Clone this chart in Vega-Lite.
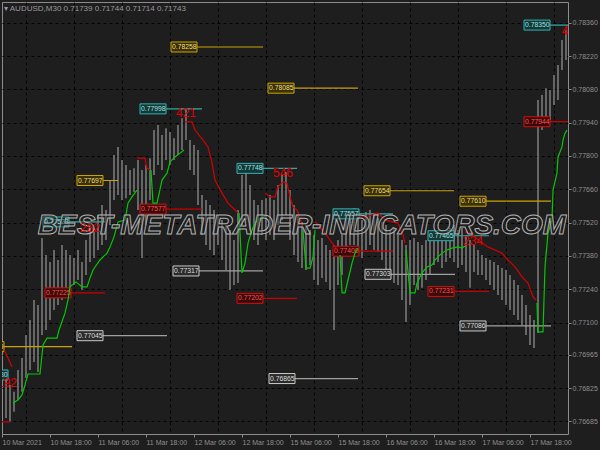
{
"$schema": "https://vega.github.io/schema/vega-lite/v6.json",
"width": 566, "height": 432,
"autosize": {"type": "none"},
"padding": {"left": 2, "top": 2, "right": 32, "bottom": 16},
"background": "#1e1e1e",
"title": {"text": "▾ AUDUSD,M30  0.71739 0.71744 0.71714 0.71743", "anchor": "start", "frame": "group", "offset": -11, "dx": 2, "fontSize": 8, "fontWeight": "normal", "font": "Liberation Sans, sans-serif", "color": "#9a9a9a"},
"config": {
  "view": {"stroke": "#8c8c8c", "strokeWidth": 1},
  "axis": {"labelFont": "Liberation Sans, sans-serif", "labelFontSize": 7, "labelColor": "#8e8e8e", "tickColor": "#8c8c8c", "domain": false, "gridColor": "#000000", "gridDash": [3, 3], "gridOpacity": 0.85, "title": null}
},
"datasets": {
"bars": [
{"b":0,"h":0.76796,"l":0.76691},{"b":2,"h":0.76859,"l":0.76699},{"b":4,"h":0.76838,"l":0.76683},{"b":6,"h":0.76809,"l":0.76725},{"b":8,"h":0.76901,"l":0.76775},{"b":10,"h":0.76951,"l":0.76809},{"b":12,"h":0.77048,"l":0.76867},{"b":14,"h":0.77111,"l":0.76901},{"b":16,"h":0.77195,"l":0.76935},{"b":18,"h":0.77174,"l":0.76893},
{"b":20,"h":0.77455,"l":0.77048},{"b":22,"h":0.77384,"l":0.77069},{"b":24,"h":0.77355,"l":0.77111},{"b":26,"h":0.77405,"l":0.77153},{"b":28,"h":0.77363,"l":0.77174},{"b":30,"h":0.77426,"l":0.77195},{"b":32,"h":0.77405,"l":0.77216},{"b":34,"h":0.77384,"l":0.77204},{"b":36,"h":0.77371,"l":0.77258},{"b":38,"h":0.77405,"l":0.77279},
{"b":40,"h":0.77355,"l":0.77237},{"b":42,"h":0.77447,"l":0.773},{"b":44,"h":0.7751,"l":0.77355},{"b":46,"h":0.77497,"l":0.77371},{"b":48,"h":0.77552,"l":0.77405},{"b":50,"h":0.77594,"l":0.77426},{"b":52,"h":0.77573,"l":0.77447},{"b":54,"h":0.77699,"l":0.7751},{"b":56,"h":0.77804,"l":0.77615},{"b":58,"h":0.77838,"l":0.77636},
{"b":60,"h":0.77783,"l":0.77615},{"b":62,"h":0.77762,"l":0.77623},{"b":64,"h":0.77741,"l":0.77636},{"b":66,"h":0.77749,"l":0.77649},{"b":68,"h":0.77783,"l":0.77573},{"b":70,"h":0.77741,"l":0.77371},{"b":72,"h":0.77762,"l":0.7751},{"b":74,"h":0.77791,"l":0.77615},{"b":76,"h":0.77909,"l":0.7772},{"b":78,"h":0.7793,"l":0.77762},
{"b":80,"h":0.77888,"l":0.77741},{"b":82,"h":0.77917,"l":0.77783},{"b":84,"h":0.77901,"l":0.77762},{"b":86,"h":0.77875,"l":0.77783},{"b":88,"h":0.7793,"l":0.77804},{"b":90,"h":0.77959,"l":0.77825},{"b":92,"h":0.77993,"l":0.77867},{"b":94,"h":0.77867,"l":0.77741},{"b":96,"h":0.77846,"l":0.7772},{"b":98,"h":0.77825,"l":0.77594},
{"b":100,"h":0.77636,"l":0.77468},{"b":102,"h":0.77615,"l":0.77426},{"b":104,"h":0.77594,"l":0.77405},{"b":106,"h":0.77573,"l":0.77384},{"b":108,"h":0.77552,"l":0.77426},{"b":110,"h":0.77531,"l":0.77363},{"b":112,"h":0.7751,"l":0.77321},{"b":114,"h":0.77489,"l":0.77237},{"b":116,"h":0.77447,"l":0.77258},{"b":118,"h":0.77573,"l":0.77266},
{"b":120,"h":0.7772,"l":0.7751},{"b":122,"h":0.77762,"l":0.77531},{"b":124,"h":0.77678,"l":0.77489},{"b":126,"h":0.77615,"l":0.77447},{"b":128,"h":0.77594,"l":0.77426},{"b":130,"h":0.77615,"l":0.77468},{"b":132,"h":0.77623,"l":0.77447},{"b":134,"h":0.77636,"l":0.77468},{"b":136,"h":0.77615,"l":0.77447},{"b":138,"h":0.77678,"l":0.7751},
{"b":140,"h":0.7772,"l":0.77531},{"b":142,"h":0.77733,"l":0.77552},{"b":144,"h":0.77657,"l":0.77447},{"b":146,"h":0.77594,"l":0.77384},{"b":148,"h":0.77552,"l":0.77355},{"b":150,"h":0.77523,"l":0.77329},{"b":152,"h":0.7751,"l":0.77321},{"b":154,"h":0.77489,"l":0.77342},{"b":156,"h":0.77468,"l":0.77279},{"b":158,"h":0.77447,"l":0.77258},
{"b":160,"h":0.77455,"l":0.77287},{"b":162,"h":0.77426,"l":0.77271},{"b":164,"h":0.77405,"l":0.77237},{"b":166,"h":0.77426,"l":0.77069},{"b":168,"h":0.77447,"l":0.77258},{"b":170,"h":0.77468,"l":0.773},{"b":172,"h":0.77552,"l":0.77384},{"b":174,"h":0.77573,"l":0.77426},{"b":176,"h":0.77581,"l":0.77426},{"b":178,"h":0.77552,"l":0.77405},
{"b":180,"h":0.77531,"l":0.77371},{"b":182,"h":0.77565,"l":0.77405},{"b":184,"h":0.77573,"l":0.77426},{"b":186,"h":0.77552,"l":0.77405},{"b":188,"h":0.77539,"l":0.77397},{"b":190,"h":0.77523,"l":0.77363},{"b":192,"h":0.7751,"l":0.77321},{"b":194,"h":0.77489,"l":0.773},{"b":196,"h":0.77497,"l":0.77266},{"b":198,"h":0.77468,"l":0.77258},
{"b":200,"h":0.77447,"l":0.77195},{"b":202,"h":0.77426,"l":0.77103},{"b":204,"h":0.77447,"l":0.77174},{"b":206,"h":0.77455,"l":0.77258},{"b":208,"h":0.77439,"l":0.77237},{"b":210,"h":0.77426,"l":0.77246},{"b":212,"h":0.77447,"l":0.77279},{"b":214,"h":0.77468,"l":0.773},{"b":216,"h":0.77481,"l":0.77342},{"b":218,"h":0.77489,"l":0.77355},
{"b":220,"h":0.77468,"l":0.77329},{"b":222,"h":0.77481,"l":0.77355},{"b":224,"h":0.77497,"l":0.77371},{"b":226,"h":0.7751,"l":0.77355},{"b":228,"h":0.77489,"l":0.77329},{"b":230,"h":0.77497,"l":0.77342},{"b":232,"h":0.77468,"l":0.77313},{"b":234,"h":0.77447,"l":0.77246},{"b":236,"h":0.77426,"l":0.77313},{"b":238,"h":0.77405,"l":0.773},
{"b":240,"h":0.77384,"l":0.773},{"b":242,"h":0.77371,"l":0.77279},{"b":244,"h":0.77363,"l":0.77258},{"b":246,"h":0.77355,"l":0.77237},{"b":248,"h":0.77342,"l":0.77216},{"b":250,"h":0.77329,"l":0.77195},{"b":252,"h":0.77321,"l":0.77174},{"b":254,"h":0.773,"l":0.77153},{"b":256,"h":0.77279,"l":0.77132},{"b":258,"h":0.77258,"l":0.77111},
{"b":260,"h":0.77216,"l":0.7709},{"b":262,"h":0.77174,"l":0.77048},{"b":264,"h":0.77132,"l":0.77006},{"b":266,"h":0.77111,"l":0.76993},{"b":268,"h":0.78035,"l":0.77056},{"b":270,"h":0.78056,"l":0.77909},{"b":272,"h":0.78085,"l":0.7793},{"b":274,"h":0.78077,"l":0.77951},{"b":276,"h":0.7814,"l":0.78014},{"b":278,"h":0.78182,"l":0.78035},
{"b":280,"h":0.78287,"l":0.78161},{"b":282,"h":0.78329,"l":0.78203}
],
"trend": [
{"b":1,"p":0.76985,"s":1,"t":"dn"},{"b":3,"p":0.76951,"s":1,"t":"dn"},{"b":5,"p":0.76914,"s":1,"t":"dn"},
{"b":5.5,"p":0.76762,"s":2,"t":"up"},{"b":8,"p":0.76775,"s":2,"t":"up"},{"b":10,"p":0.76796,"s":2,"t":"up"},{"b":11.5,"p":0.76838,"s":2,"t":"up"},{"b":13,"p":0.76884,"s":2,"t":"up"},{"b":19,"p":0.76884,"s":2,"t":"up"},{"b":20.5,"p":0.77006,"s":2,"t":"up"},{"b":22.5,"p":0.77035,"s":2,"t":"up"},{"b":27.5,"p":0.77035,"s":2,"t":"up"},{"b":28.5,"p":0.77069,"s":2,"t":"up"},{"b":31.5,"p":0.7714,"s":2,"t":"up"},{"b":33,"p":0.77195,"s":2,"t":"up"},{"b":34,"p":0.7725,"s":2,"t":"up"},{"b":37,"p":0.77271,"s":2,"t":"up"},{"b":40,"p":0.7725,"s":2,"t":"up"},{"b":42.5,"p":0.7725,"s":2,"t":"up"},{"b":44,"p":0.77287,"s":2,"t":"up"},{"b":45.5,"p":0.77321,"s":2,"t":"up"},{"b":49,"p":0.77363,"s":2,"t":"up"},{"b":52.5,"p":0.77392,"s":2,"t":"up"},{"b":54,"p":0.77418,"s":2,"t":"up"},{"b":56,"p":0.7746,"s":2,"t":"up"},{"b":58,"p":0.77523,"s":2,"t":"up"},{"b":61.5,"p":0.77531,"s":2,"t":"up"},{"b":63,"p":0.77602,"s":2,"t":"up"},{"b":65,"p":0.77628,"s":2,"t":"up"},{"b":67.5,"p":0.77657,"s":2,"t":"up"},
{"b":67.5,"p":0.77791,"s":3,"t":"dn"},{"b":71.5,"p":0.77791,"s":3,"t":"dn"},{"b":72.5,"p":0.77749,"s":3,"t":"dn"},{"b":74,"p":0.77741,"s":3,"t":"dn"},
{"b":74.5,"p":0.77741,"s":4,"t":"up"},{"b":75.5,"p":0.77602,"s":4,"t":"up"},{"b":77.5,"p":0.77602,"s":4,"t":"up"},{"b":80,"p":0.77699,"s":4,"t":"up"},{"b":82.5,"p":0.77728,"s":4,"t":"up"},{"b":84,"p":0.77775,"s":4,"t":"up"},{"b":86.5,"p":0.77796,"s":4,"t":"up"},{"b":89,"p":0.77812,"s":4,"t":"up"},{"b":91,"p":0.77825,"s":4,"t":"up"},
{"b":91.5,"p":0.77943,"s":5,"t":"dn"},{"b":95,"p":0.77943,"s":5,"t":"dn"},{"b":96.5,"p":0.77909,"s":5,"t":"dn"},{"b":100.5,"p":0.77867,"s":5,"t":"dn"},{"b":103,"p":0.77838,"s":5,"t":"dn"},{"b":105,"p":0.77771,"s":5,"t":"dn"},{"b":106.5,"p":0.77699,"s":5,"t":"dn"},{"b":110,"p":0.77644,"s":5,"t":"dn"},{"b":113,"p":0.77602,"s":5,"t":"dn"},{"b":116.5,"p":0.77573,"s":5,"t":"dn"},{"b":118,"p":0.77561,"s":5,"t":"dn"},
{"b":118.5,"p":0.77561,"s":6,"t":"up"},{"b":120,"p":0.77309,"s":6,"t":"up"},{"b":121.5,"p":0.7735,"s":6,"t":"up"},{"b":123,"p":0.77434,"s":6,"t":"up"},{"b":125,"p":0.77489,"s":6,"t":"up"},{"b":126.5,"p":0.77518,"s":6,"t":"up"},{"b":128,"p":0.77531,"s":6,"t":"up"},{"b":131.5,"p":0.77548,"s":6,"t":"up"},
{"b":131.5,"p":0.77644,"s":7,"t":"dn"},{"b":134,"p":0.77628,"s":7,"t":"dn"},{"b":136.5,"p":0.77628,"s":7,"t":"dn"},{"b":138,"p":0.7767,"s":7,"t":"dn"},{"b":140.5,"p":0.77691,"s":7,"t":"dn"},{"b":142.5,"p":0.77686,"s":7,"t":"dn"},{"b":144,"p":0.77628,"s":7,"t":"dn"},{"b":145.5,"p":0.77586,"s":7,"t":"dn"},{"b":147.5,"p":0.77573,"s":7,"t":"dn"},{"b":149,"p":0.77544,"s":7,"t":"dn"},{"b":150,"p":0.77502,"s":7,"t":"dn"},
{"b":150.5,"p":0.77489,"s":8,"t":"up"},{"b":152,"p":0.77329,"s":8,"t":"up"},{"b":154,"p":0.77329,"s":8,"t":"up"},{"b":155.5,"p":0.77376,"s":8,"t":"up"},{"b":156.5,"p":0.77489,"s":8,"t":"up"},
{"b":156.5,"p":0.77523,"s":9,"t":"dn"},{"b":159,"p":0.77502,"s":9,"t":"dn"},{"b":161.5,"p":0.77476,"s":9,"t":"dn"},{"b":164,"p":0.77447,"s":9,"t":"dn"},{"b":166.5,"p":0.77418,"s":9,"t":"dn"},{"b":168,"p":0.77405,"s":9,"t":"dn"},
{"b":169,"p":0.77384,"s":10,"t":"up"},{"b":170,"p":0.77225,"s":10,"t":"up"},{"b":171.5,"p":0.77225,"s":10,"t":"up"},{"b":173,"p":0.77279,"s":10,"t":"up"},{"b":175,"p":0.7735,"s":10,"t":"up"},{"b":176.5,"p":0.77392,"s":10,"t":"up"},{"b":178,"p":0.77413,"s":10,"t":"up"},
{"b":178,"p":0.77544,"s":11,"t":"dn"},{"b":181.5,"p":0.77544,"s":11,"t":"dn"},{"b":185,"p":0.77552,"s":11,"t":"dn"},{"b":188,"p":0.77561,"s":11,"t":"dn"},{"b":191.5,"p":0.77531,"s":11,"t":"dn"},{"b":195,"p":0.77523,"s":11,"t":"dn"},{"b":198,"p":0.77518,"s":11,"t":"dn"},{"b":200.5,"p":0.77468,"s":11,"t":"dn"},{"b":201.5,"p":0.77434,"s":11,"t":"dn"},
{"b":202,"p":0.77405,"s":12,"t":"up"},{"b":204,"p":0.77225,"s":12,"t":"up"},{"b":206.5,"p":0.77225,"s":12,"t":"up"},{"b":207.5,"p":0.77266,"s":12,"t":"up"},{"b":210,"p":0.77309,"s":12,"t":"up"},{"b":212.5,"p":0.77334,"s":12,"t":"up"},{"b":215,"p":0.77342,"s":12,"t":"up"},{"b":216.5,"p":0.77363,"s":12,"t":"up"},{"b":218,"p":0.77376,"s":12,"t":"up"},{"b":220,"p":0.77392,"s":12,"t":"up"},{"b":222.5,"p":0.77405,"s":12,"t":"up"},{"b":225,"p":0.77413,"s":12,"t":"up"},{"b":228,"p":0.77418,"s":12,"t":"up"},{"b":230,"p":0.77413,"s":12,"t":"up"},{"b":231.5,"p":0.77422,"s":12,"t":"up"},
{"b":231.5,"p":0.77481,"s":13,"t":"dn"},{"b":234,"p":0.77476,"s":13,"t":"dn"},{"b":236.5,"p":0.7746,"s":13,"t":"dn"},{"b":240,"p":0.77434,"s":13,"t":"dn"},{"b":243,"p":0.77418,"s":13,"t":"dn"},{"b":246.5,"p":0.77405,"s":13,"t":"dn"},{"b":250,"p":0.77392,"s":13,"t":"dn"},{"b":253,"p":0.77363,"s":13,"t":"dn"},{"b":256.5,"p":0.77334,"s":13,"t":"dn"},{"b":260,"p":0.77292,"s":13,"t":"dn"},{"b":263,"p":0.77266,"s":13,"t":"dn"},{"b":265.5,"p":0.77208,"s":13,"t":"dn"},{"b":267,"p":0.77195,"s":13,"t":"dn"},
{"b":267.5,"p":0.77182,"s":14,"t":"up"},{"b":268,"p":0.77061,"s":14,"t":"up"},{"b":270.5,"p":0.77061,"s":14,"t":"up"},{"b":271.5,"p":0.77334,"s":14,"t":"up"},{"b":273,"p":0.77476,"s":14,"t":"up"},{"b":275,"p":0.77531,"s":14,"t":"up"},{"b":275.5,"p":0.77657,"s":14,"t":"up"},{"b":277.5,"p":0.77728,"s":14,"t":"up"},{"b":278,"p":0.77796,"s":14,"t":"up"},{"b":280,"p":0.77838,"s":14,"t":"up"},{"b":280.5,"p":0.77867,"s":14,"t":"up"},{"b":281.5,"p":0.77896,"s":14,"t":"up"},{"b":282.5,"p":0.77909,"s":14,"t":"up"}
],
"levels": [
{"v":0.78258,"b0":84.5,"b1":130.5,"c":"yellow"},
{"v":0.78085,"b0":133,"b1":178,"c":"yellow"},
{"v":0.77998,"b0":69,"b1":100,"c":"teal"},
{"v":0.7835,"b0":261,"b1":283,"c":"teal"},
{"v":0.77944,"b0":261,"b1":283,"c":"red"},
{"v":0.77697,"b0":37.5,"b1":58,"c":"yellow"},
{"v":0.77748,"b0":117.5,"b1":147.5,"c":"teal"},
{"v":0.77654,"b0":181,"b1":226,"c":"yellow"},
{"v":0.7761,"b0":229,"b1":274.5,"c":"yellow"},
{"v":0.77557,"b0":165.5,"b1":195.5,"c":"teal"},
{"v":0.77577,"b0":69,"b1":100,"c":"red"},
{"v":0.77523,"b0":20.5,"b1":51.5,"c":"teal"},
{"v":0.77465,"b0":213,"b1":243.5,"c":"teal"},
{"v":0.774,"b0":165.5,"b1":195.5,"c":"red"},
{"v":0.77225,"b0":21.5,"b1":51.5,"c":"red"},
{"v":0.77202,"b0":117.5,"b1":147.5,"c":"red"},
{"v":0.77231,"b0":213,"b1":243.5,"c":"red"},
{"v":0.77317,"b0":85.5,"b1":130.5,"c":"gray"},
{"v":0.77303,"b0":181.5,"b1":226.5,"c":"gray"},
{"v":0.77045,"b0":37.5,"b1":82.5,"c":"gray"},
{"v":0.77086,"b0":229,"b1":274.5,"c":"gray"},
{"v":0.76865,"b0":133.5,"b1":178,"c":"gray"},
{"v":0.76999,"b0":-12,"b1":35,"c":"yellow"},
{"v":0.7688,"b0":-10,"b1":3,"c":"teal"},
{"v":0.76683,"b0":-16,"b1":4,"c":"red"}
],
"nums": [
{"b":92,"p":0.7798,"t":"421"},
{"b":140.5,"p":0.77728,"t":"546"},
{"b":235.5,"p":0.77443,"t":"234"},
{"b":44,"p":0.77497,"t":"282"},
{"b":2.5,"p":0.76846,"t":"192"},
{"b":281.5,"p":0.78325,"t":"4"}
],
"wm": [{"b":150,"p":0.77506,"t":"BEST-METATRADER-INDICATORS.COM"}]
},
"resolve": {"scale": {"color": "independent", "fill": "independent", "stroke": "independent"}, "axis": {"x": "independent", "y": "independent"}},
"layer": [
{
 "data": {"name": "bars"},
 "mark": {"type": "rule", "color": "#8f8f8f", "strokeWidth": 1.3, "clip": true},
 "encoding": {
  "x": {"field": "b", "type": "quantitative", "scale": {"domain": [0, 283], "nice": false, "zero": false},
        "axis": {"orient": "bottom", "values": [12,36,60,84,108,132,156,180,204,228,252,276], "grid": true, "labels": false, "ticks": false}},
  "y": {"field": "h", "type": "quantitative", "scale": {"domain": [0.76632, 0.78447], "nice": false, "zero": false},
        "axis": {"orient": "right", "values": [0.7836,0.7822,0.7808,0.7794,0.778,0.7766,0.7752,0.7738,0.7724,0.771,0.76965,0.76825,0.76685], "format": ".5f", "grid": true, "tickSize": 3, "labelPadding": 1}},
  "y2": {"field": "l"}
 }
},
{
 "data": {"name": "levels"},
 "mark": {"type": "rule", "strokeWidth": 1.2, "clip": true},
 "encoding": {
  "x": {"field": "b0", "type": "quantitative", "scale": {"domain": [0, 283], "nice": false, "zero": false}, "axis": null},
  "x2": {"field": "b1"},
  "y": {"field": "v", "type": "quantitative", "scale": {"domain": [0.76632, 0.78447], "nice": false, "zero": false}, "axis": null},
  "color": {"field": "c", "type": "nominal", "legend": null, "scale": {"domain": ["teal","yellow","red","gray"], "range": ["#2fa7a7","#c9a400","#c80000","#a0a0a0"]}}
 }
},
{
 "data": {"name": "levels"},
 "mark": {"type": "rect", "strokeWidth": 1, "clip": true, "x2Offset": 26, "yOffset": -5, "y2Offset": 5},
 "encoding": {
  "x": {"field": "b0", "type": "quantitative", "scale": {"domain": [0, 283], "nice": false, "zero": false}, "axis": null},
  "x2": {"field": "b0"},
  "y": {"field": "v", "type": "quantitative", "scale": {"domain": [0.76632, 0.78447], "nice": false, "zero": false}, "axis": null},
  "y2": {"field": "v"},
  "fill": {"field": "c", "type": "nominal", "legend": null, "scale": {"domain": ["teal","yellow","red","gray"], "range": ["#143838","#3a3000","#3a0a0a","#2c2c2c"]}},
  "stroke": {"field": "c", "type": "nominal", "legend": null, "scale": {"domain": ["teal","yellow","red","gray"], "range": ["#35b0b0","#c9a400","#d01010","#c8c8c8"]}}
 }
},
{
 "data": {"name": "levels"},
 "mark": {"type": "text", "align": "left", "baseline": "middle", "dx": 1, "fontSize": 6.8, "font": "Liberation Sans, sans-serif", "clip": true},
 "encoding": {
  "x": {"field": "b0", "type": "quantitative", "scale": {"domain": [0, 283], "nice": false, "zero": false}, "axis": null},
  "y": {"field": "v", "type": "quantitative", "scale": {"domain": [0.76632, 0.78447], "nice": false, "zero": false}, "axis": null},
  "text": {"field": "v", "type": "quantitative", "format": ".5f"},
  "color": {"field": "c", "type": "nominal", "legend": null, "scale": {"domain": ["teal","yellow","red","gray"], "range": ["#9fe0e0","#eedc90","#ff5050","#dcdcdc"]}}
 }
},
{
 "data": {"name": "trend"},
 "mark": {"type": "line", "strokeWidth": 1.2, "clip": true},
 "encoding": {
  "x": {"field": "b", "type": "quantitative", "scale": {"domain": [0, 283], "nice": false, "zero": false},
        "axis": {"orient": "bottom", "values": [0,24,48,72,96,120,144,168,192,216,240,264], "grid": false, "tickSize": 3, "labelAlign": "left", "labelPadding": 1,
                 "labelExpr": "['10 Mar 2021','10 Mar 18:00','11 Mar 06:00','11 Mar 18:00','12 Mar 06:00','12 Mar 18:00','15 Mar 06:00','15 Mar 18:00','16 Mar 06:00','16 Mar 18:00','17 Mar 06:00','17 Mar 18:00'][round(datum.value/24)]"}},
  "y": {"field": "p", "type": "quantitative", "scale": {"domain": [0.76632, 0.78447], "nice": false, "zero": false}, "axis": null},
  "detail": {"field": "s", "type": "nominal"},
  "color": {"field": "t", "type": "nominal", "legend": null, "scale": {"domain": ["up","dn"], "range": ["#00c800","#d40000"]}}
 }
},
{
 "data": {"name": "wm"},
 "mark": {"type": "text", "align": "center", "baseline": "middle", "fontSize": 28, "fontStyle": "italic", "fontWeight": "bold", "font": "Liberation Sans, sans-serif", "fill": "#1e1e1e", "fillOpacity": 0.45, "stroke": "#b0b0b0", "strokeWidth": 1, "clip": true},
 "encoding": {
  "x": {"field": "b", "type": "quantitative", "scale": {"domain": [0, 283], "nice": false, "zero": false}, "axis": null},
  "y": {"field": "p", "type": "quantitative", "scale": {"domain": [0.76632, 0.78447], "nice": false, "zero": false}, "axis": null},
  "text": {"field": "t"}
 }
},
{
 "data": {"name": "nums"},
 "mark": {"type": "text", "align": "center", "baseline": "middle", "fontSize": 12, "font": "Liberation Sans, sans-serif", "color": "#e00000", "clip": true},
 "encoding": {
  "x": {"field": "b", "type": "quantitative", "scale": {"domain": [0, 283], "nice": false, "zero": false}, "axis": null},
  "y": {"field": "p", "type": "quantitative", "scale": {"domain": [0.76632, 0.78447], "nice": false, "zero": false}, "axis": null},
  "text": {"field": "t"}
 }
}
]
}
